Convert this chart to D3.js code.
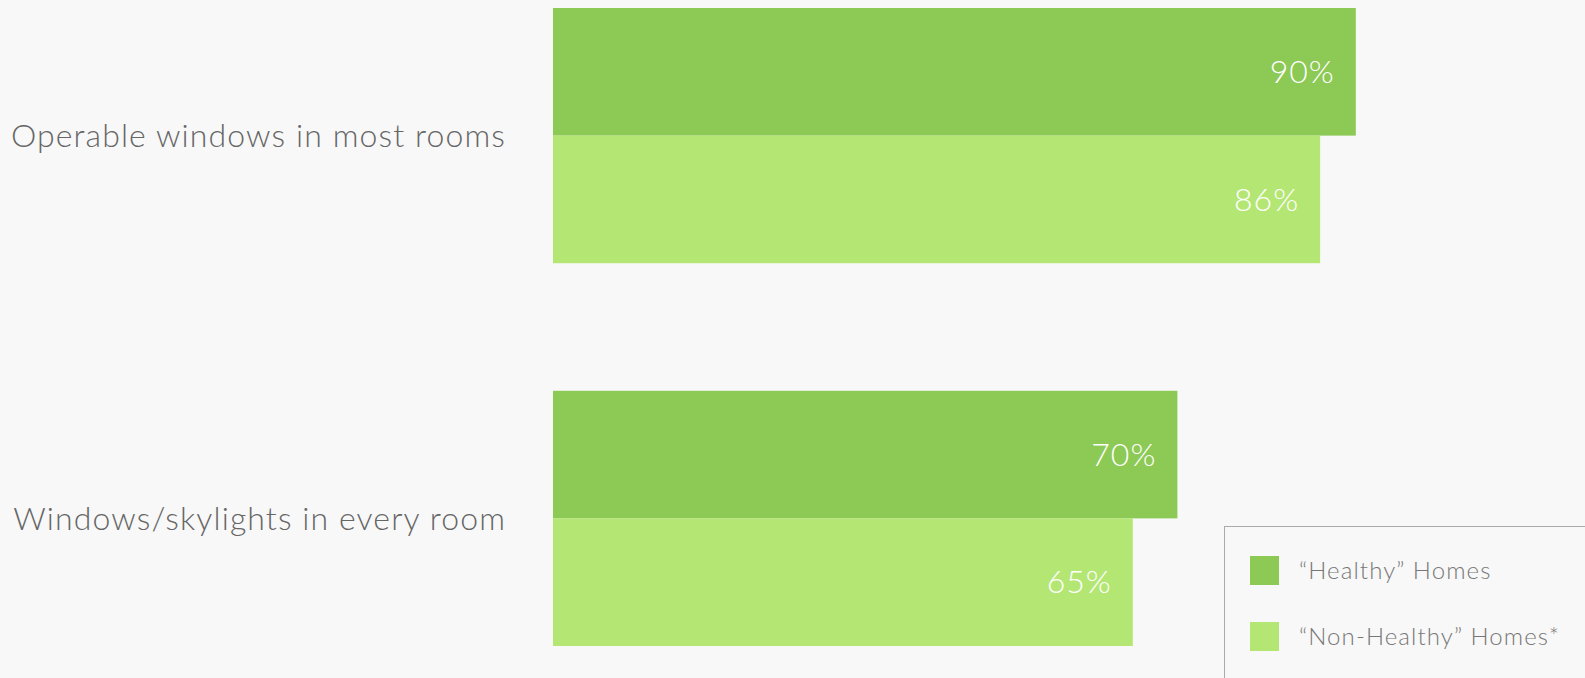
<!DOCTYPE html>
<html>
<head>
<meta charset="utf-8">
<script src="https://cdn.jsdelivr.net/npm/d3@7"></script>
<style>
  html, body { margin: 0; padding: 0; background: #f8f8f8; }
  svg { display: block; }
</style>
</head>
<body>
<svg id="chart"></svg>
<script>
const categories = ["Operable windows in most rooms", "Windows/skylights in every room"];
const seriesNames = ["\u201cHealthy\u201d Homes", "\u201cNon-Healthy\u201d Homes*"];
const healthy = [90, 70];
const nonHealthy = [86, 65];

const width = 1585;
const height = 678;
const colors = ["#8cc955", "#b4e673"];

const svg = d3.select('#chart')
  .attr('width', width)
  .attr('height', height)
  .style('background', '#f8f8f8');

const rows = categories.map((c, i) => ({ cat: c, values: [healthy[i], nonHealthy[i]] }));

const xScale = d3.scaleLinear()
  .domain([0, 100])
  .range([553, 1445]);

const yScale = d3.scaleBand()
  .domain(categories)
  .range([8, 646])
  .paddingInner(1 / 3)
  .paddingOuter(0);

const ySub = d3.scaleBand()
  .domain([0, 1])
  .range([0, yScale.bandwidth()]);

const groups = svg.selectAll('.group')
  .data(rows)
  .join('g')
    .attr('class', 'group')
    .attr('transform', d => `translate(0, ${yScale(d.cat)})`);

groups.selectAll('rect')
  .data(d => d.values.map((v, k) => ({ v, k })))
  .join('rect')
    .attr('x', xScale(0))
    .attr('y', d => ySub(d.k))
    .attr('width', d => xScale(d.v) - xScale(0))
    .attr('height', ySub.bandwidth())
    .attr('fill', d => colors[d.k]);

groups.selectAll('.val')
  .data(d => d.values.map((v, k) => ({ v, k })))
  .join('text')
    .attr('class', 'val')
    .attr('x', d => xScale(d.v) - 21)
    .attr('y', d => ySub(d.k) + ySub.bandwidth() / 2)
    .attr('dy', '0.35em')
    .attr('text-anchor', 'end')
    .attr('fill', '#ffffff')
    .style('font-family', 'Lato, sans-serif')
    .style('font-weight', 300)
    .style('font-size', '32px')
    .style('letter-spacing', '1px')
    .text(d => d.v + '%');

groups.append('text')
  .attr('x', 506)
  .attr('y', yScale.bandwidth() / 2)
  .attr('dy', '0.35em')
  .attr('text-anchor', 'end')
  .attr('fill', '#666666')
  .style('font-family', 'Lato, sans-serif')
  .style('font-weight', 300)
  .style('font-size', '32px')
  .style('letter-spacing', '1.1px')
  .text(d => d.cat);

// legend
const legend = svg.append('g')
  .attr('transform', 'translate(1224.5, 526.5)');

legend.append('rect')
  .attr('width', 400)
  .attr('height', 200)
  .attr('fill', 'none')
  .attr('stroke', '#aaaaaa')
  .attr('stroke-width', 1);

const items = legend.selectAll('.item')
  .data(seriesNames)
  .join('g')
    .attr('class', 'item')
    .attr('transform', (d, i) => `translate(25.5, ${29.5 + i * 66})`);

items.append('rect')
  .attr('width', 29)
  .attr('height', 29)
  .attr('fill', (d, i) => colors[i]);

items.append('text')
  .attr('x', 49)
  .attr('y', 14.5)
  .attr('dy', '0.35em')
  .attr('fill', '#777777')
  .style('font-family', 'Lato, sans-serif')
  .style('font-weight', 300)
  .style('font-size', '24px')
  .style('letter-spacing', '1.1px')
  .text(d => d);
</script>
</body>
</html>
